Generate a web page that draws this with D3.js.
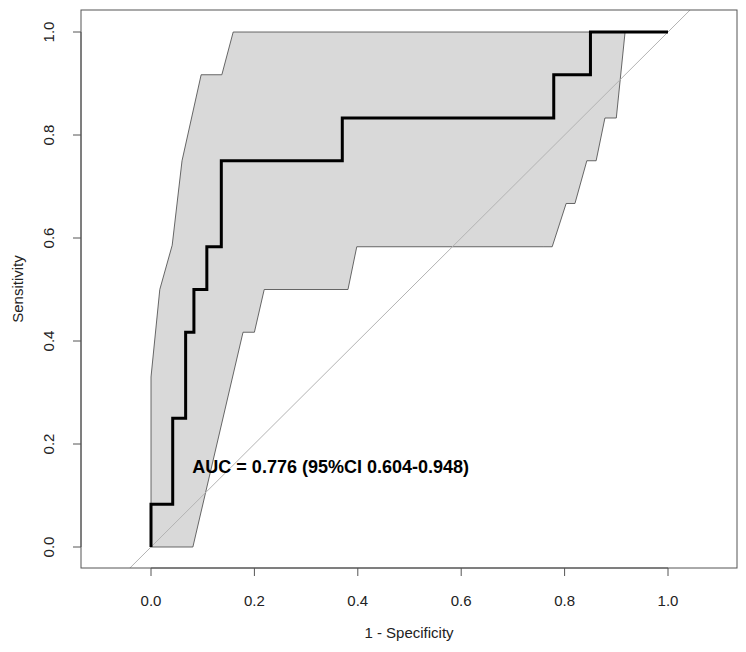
<!DOCTYPE html>
<html><head><meta charset="utf-8">
<script src="https://cdn.jsdelivr.net/npm/d3@7"></script>
<style>body{margin:0;background:#fff}text{font-family:"Liberation Sans",Arial,sans-serif}</style>
</head><body><div id="chart"></div>
<script>
// ROC step curve (1 - specificity, sensitivity)
const rocX = [0, 0, 0.042, 0.042, 0.067, 0.067, 0.083, 0.083, 0.108, 0.108, 0.136, 0.136, 0.370, 0.370, 0.779, 0.779, 0.850, 0.850, 1.0];
const rocY = [0, 0.083, 0.083, 0.25, 0.25, 0.417, 0.417, 0.5, 0.5, 0.583, 0.583, 0.75, 0.75, 0.833, 0.833, 0.917, 0.917, 1.0, 1.0];
// confidence band outline (polygon)
const ciX = [0, 0, 0.017, 0.041, 0.060, 0.097, 0.137, 0.159, 0.917, 0.900, 0.878, 0.861, 0.843, 0.820, 0.803, 0.776, 0.760, 0.398, 0.381, 0.219, 0.200, 0.178, 0.081];
const ciY = [0, 0.33, 0.50, 0.586, 0.75, 0.917, 0.917, 1.0, 1.0, 0.833, 0.833, 0.75, 0.75, 0.667, 0.667, 0.583, 0.583, 0.583, 0.5, 0.5, 0.417, 0.417, 0];
const ticks = [0, 0.2, 0.4, 0.6, 0.8, 1.0];
const aucLabel = "AUC = 0.776 (95%CI 0.604-0.948)";

const W = 746, H = 652;
const box = {left: 81, right: 737, top: 10, bottom: 568};
const x = d3.scaleLinear().domain([0, 1]).range([151, 668]);
const y = d3.scaleLinear().domain([0, 1]).range([547, 32]);

const svg = d3.select('#chart').append('svg').attr('width', W).attr('height', H);
svg.append('clipPath').attr('id', 'clip').append('rect')
  .attr('x', box.left).attr('y', box.top)
  .attr('width', box.right - box.left).attr('height', box.bottom - box.top);

const line = d3.line().x(d => x(d[0])).y(d => y(d[1]));

svg.append('path')
  .attr('d', line(d3.zip(ciX, ciY)) + 'Z')
  .attr('fill', '#d9d9d9').attr('stroke', '#444').attr('stroke-width', 0.8);

// diagonal reference line
const dLo = x.invert(box.left - 20), dHi = x.invert(box.right + 20);
svg.append('path').attr('clip-path', 'url(#clip)')
  .attr('d', line([[dLo, dLo], [dHi, dHi]]))
  .attr('stroke', '#b3b3b3').attr('stroke-width', 1).attr('fill', 'none');

svg.append('path')
  .attr('d', line(d3.zip(rocX, rocY)))
  .attr('fill', 'none').attr('stroke', '#000').attr('stroke-width', 3);

svg.append('rect')
  .attr('x', box.left).attr('y', box.top)
  .attr('width', box.right - box.left).attr('height', box.bottom - box.top)
  .attr('fill', 'none').attr('stroke', '#555').attr('stroke-width', 1);

// axes
const xAxis = svg.append('g').attr('transform', `translate(0,${box.bottom})`);
xAxis.append('line').attr('x1', x(0)).attr('x2', x(1)).attr('stroke', '#555');
ticks.forEach(t => {
  xAxis.append('line').attr('x1', x(t)).attr('x2', x(t)).attr('y2', 8).attr('stroke', '#555');
  xAxis.append('text').attr('x', x(t)).attr('y', 38).attr('text-anchor', 'middle')
    .attr('font-size', 15).attr('fill', '#222').text(t.toFixed(1));
});
const yAxis = svg.append('g').attr('transform', `translate(${box.left},0)`);
yAxis.append('line').attr('y1', y(0)).attr('y2', y(1)).attr('stroke', '#555');
ticks.forEach(t => {
  yAxis.append('line').attr('y1', y(t)).attr('y2', y(t)).attr('x2', -8).attr('stroke', '#555');
  yAxis.append('text').attr('transform', `translate(-27,${y(t)}) rotate(-90)`)
    .attr('text-anchor', 'middle').attr('font-size', 15).attr('fill', '#222').text(t.toFixed(1));
});

svg.append('text').attr('x', (box.left + box.right) / 2).attr('y', 638)
  .attr('text-anchor', 'middle').attr('font-size', 15).attr('fill', '#222').text('1 - Specificity');
svg.append('text').attr('transform', `translate(23,${(box.top + box.bottom) / 2}) rotate(-90)`)
  .attr('text-anchor', 'middle').attr('font-size', 15).attr('fill', '#222').text('Sensitivity');

svg.append('text').attr('x', x(0.08)).attr('y', y(0.155)).attr('dy', '0.35em')
  .attr('font-size', 18).attr('font-weight', 'bold').attr('fill', '#000').text(aucLabel);
</script></body></html>
